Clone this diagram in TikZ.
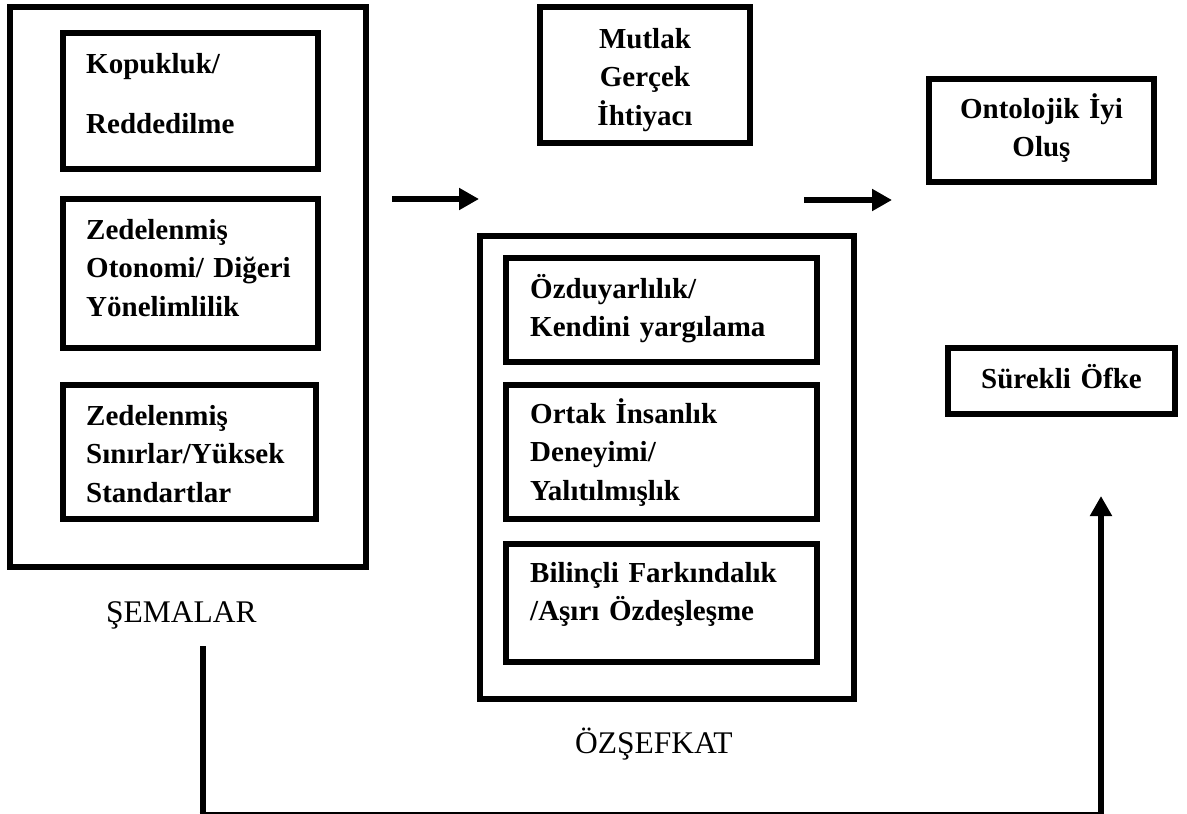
\documentclass[tikz,border=0pt]{standalone}
\usepackage{fontspec}
\setmainfont{Liberation Serif}
\usetikzlibrary{arrows.meta}

\tikzset{
  box/.style={draw=black, line width=6pt, inner sep=0pt, fill=none},
  boldtext/.style={inner sep=0pt, anchor=base west, text width=330pt, align=left,
    font=\fontsize{29}{38.5}\selectfont\bfseries},
  boldcenter/.style={inner sep=0pt, anchor=base, text width=230pt, align=center,
    font=\fontsize{29}{38.5}\selectfont\bfseries},
  caption/.style={inner sep=0pt, anchor=base west, font=\fontsize{31.5}{36}\selectfont},
  flow/.style={line width=6.5pt, -{Triangle[length=20pt,width=21pt]}},
}

\begin{document}
\begin{tikzpicture}[x=1pt, y=-1pt]
\useasboundingbox (0,0) rectangle (1187,814);

% left column: schemas
\node[box, minimum width=356pt, minimum height=560pt] (sema) at (188,287) {};
\node[box, minimum width=255pt, minimum height=136pt] (kop) at (190.5,101) {};
\node[box, minimum width=255pt, minimum height=149pt] (oto) at (190.5,273.5) {};
\node[box, minimum width=253pt, minimum height=134pt] (sin) at (189.5,452) {};

\node[boldtext] (kopT) at (86,73) {Kopukluk/\\[21.5pt]Reddedilme};
\node[boldtext] (otoT) at (86,239) {Zedelenmiş\\Otonomi/ Diğeri\\Yönelimlilik};
\node[boldtext] (sinT) at (86,425) {Zedelenmiş\\Sınırlar/Yüksek\\Standartlar};
\node[caption] (semaL) at (106,622) {ŞEMALAR};

% top middle
\node[box, minimum width=210pt, minimum height=136pt] (mut) at (645,75) {};
\node[boldcenter] (mutT) at (645,48) {Mutlak\\Gerçek\\İhtiyacı};

% middle column: self-compassion
\node[box, minimum width=374pt, minimum height=463pt] (sef) at (667,467.5) {};
\node[box, minimum width=311pt, minimum height=104pt] (ozd) at (661.5,310) {};
\node[box, minimum width=311pt, minimum height=134pt] (ort) at (661.5,452) {};
\node[box, minimum width=311pt, minimum height=118pt] (bil) at (661.5,603) {};

\node[boldtext] (ozdT) at (530,298) {Özduyarlılık/\\Kendini yargılama};
\node[boldtext] (ortT) at (530,423) {Ortak İnsanlık\\Deneyimi/\\Yalıtılmışlık};
\node[boldtext] (bilT) at (530,582) {Bilinçli Farkındalık\\/Aşırı Özdeşleşme};
\node[caption] (sefL) at (575,753) {ÖZŞEFKAT};

% right column: outcomes
\node[box, minimum width=225pt, minimum height=103pt] (ont) at (1041.5,130.5) {};
\node[boldcenter] (ontT) at (1041.5,118) {Ontolojik İyi\\Oluş};
\node[box, minimum width=227pt, minimum height=66pt] (ofk) at (1061.5,381) {};
\node[boldcenter] (ofkT) at (1061.5,388) {Sürekli Öfke};

% arrows
\coordinate (a1s) at (392,199);
\coordinate (a1e) at (479,199);
\coordinate (a2s) at (804,200);
\coordinate (a2e) at (892,200);
\draw[flow] (a1s) -- (a1e);
\draw[flow] (a2s) -- (a2e);

% feedback path from the schemas to anger
\coordinate (fbTop) at (202.5,646);
\coordinate (fbLeft) at (202.5,813);
\coordinate (fbRight) at (1101,813);
\coordinate (fbTip) at (1101,496);
\draw[line width=6pt] (fbTop) -- ([yshift=-1.5pt]fbLeft);
\draw[line width=3pt] ([xshift=-3pt]fbLeft) -- ([xshift=3pt]fbRight);
\draw[flow, line width=6pt] ([yshift=1.5pt]fbRight) -- (fbTip);
\end{tikzpicture}
\end{document}
